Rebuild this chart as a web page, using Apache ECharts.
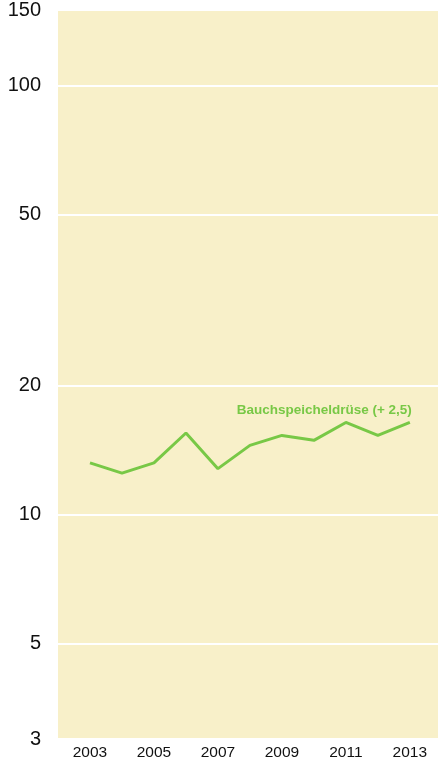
<!DOCTYPE html>
<html>
<head>
<meta charset="utf-8">
<title>Bauchspeicheldrüse</title>
<script src="https://cdn.jsdelivr.net/npm/echarts@6/dist/echarts.min.js"></script>
<style>
  html, body { margin: 0; padding: 0; background: #fff; }
  #chart { width: 438px; height: 764px; }
</style>
</head>
<body>
<div id="chart"></div>
<script>
// years and values
const years = [2003, 2004, 2005, 2006, 2007, 2008, 2009, 2010, 2011, 2012, 2013];
const values = [13.2, 12.5, 13.2, 15.5, 12.8, 14.5, 15.3, 14.9, 16.4, 15.3, 16.4];
const yTicks = [3, 5, 10, 20, 50, 100, 150];
const xLabelYears = [2003, 2005, 2007, 2009, 2011, 2013];
const seriesName = 'Bauchspeicheldrüse (+ 2,5)';

const green = '#78c846';
const font = 'Liberation Sans, Arial, Helvetica, sans-serif';

const chart = echarts.init(document.getElementById('chart'));

chart.setOption({
  animation: false,
  grid: {
    left: 58,
    right: 0,
    top: 9,
    bottom: 25,
    show: true,
    backgroundColor: '#f8f0c9',
    borderWidth: 0,
  },
  xAxis: {
    type: 'value',
    min: 2002,
    max: 2013.88, // plot runs off the right edge a little
    interval: 1,
    axisLine: { show: false },
    axisTick: { show: false },
    splitLine: { show: false },
    axisLabel: {
      customValues: xLabelYears,
      formatter: v => String(v),
      color: '#111',
      fontSize: 15.5,
      fontFamily: font,
      margin: 6,
    },
  },
  yAxis: {
    type: 'log',
    logBase: 10,
    min: 3,
    max: 150,
    axisLine: { show: false },
    axisTick: { show: false, customValues: yTicks },
    splitLine: { show: true, lineStyle: { color: '#ffffff', width: 2 } },
    axisLabel: {
      customValues: yTicks,
      formatter: v => String(Math.round(v)),
      color: '#111',
      fontSize: 20,
      fontFamily: font,
      margin: 17,
    },
  },
  series: [{
    name: seriesName,
    type: 'line',
    data: years.map((y, i) => [y, values[i]]),
    showSymbol: false,
    lineStyle: { color: green, width: 3 },
    endLabel: {
      show: true,
      formatter: seriesName,
      align: 'right',
      verticalAlign: 'bottom',
      offset: [2, -5],
      distance: 0,
      color: green,
      fontWeight: 'bold',
      fontSize: 13.5,
      fontFamily: font,
    },
  }],
});
</script>
</body>
</html>
